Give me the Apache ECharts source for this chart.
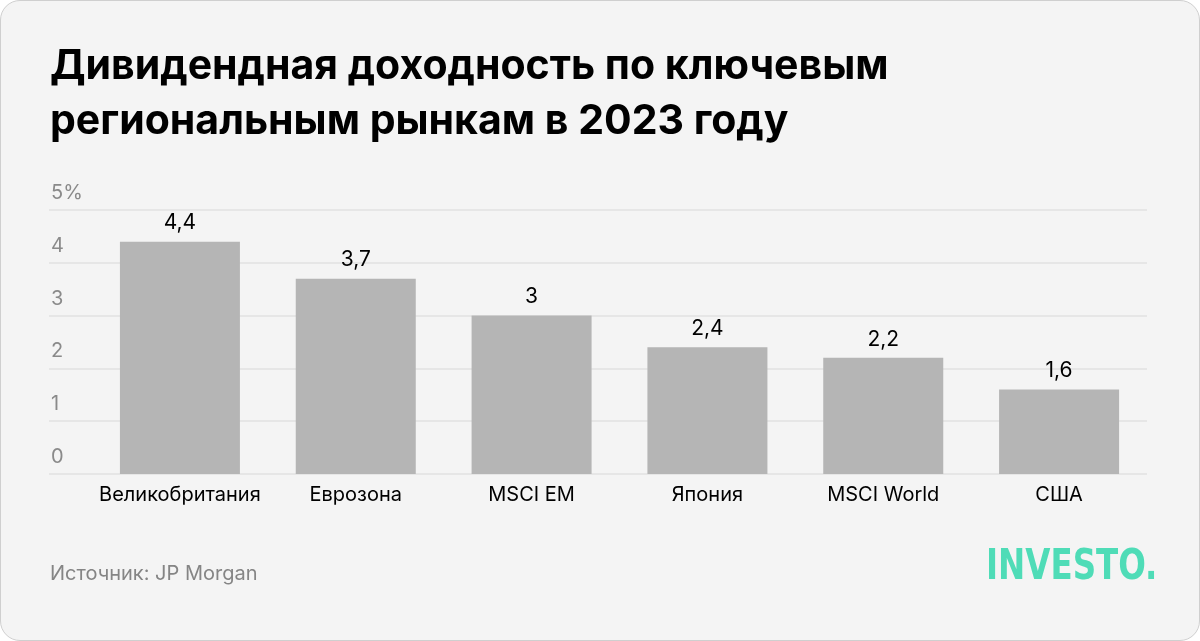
<!DOCTYPE html>
<html>
<head>
<meta charset="utf-8">
<script src="https://cdn.jsdelivr.net/npm/echarts@6/dist/echarts.min.js"></script>
<style>
html,body{margin:0;padding:0;background:#ffffff;}
#chart{width:1200px;height:641px;box-sizing:border-box;border:1px solid #cfcfcf;border-radius:20px;overflow:hidden;background:#f4f4f4;}
</style>
</head>
<body>
<div id="chart"></div>
<script>
const categories = ['Великобритания', 'Еврозона', 'MSCI EM', 'Япония', 'MSCI World', 'США'];
const values = [4.4, 3.7, 3, 2.4, 2.2, 1.6];
const yTicks = ['0', '1', '2', '3', '4', '5%'];
const titleText = 'Дивидендная доходность по ключевым\nрегиональным рынкам в 2023 году';
const sourceText = 'Источник: JP Morgan';
const brandText = 'INVESTO.';

const chart = echarts.init(document.getElementById('chart'), null, {renderer: 'canvas'});
const fmt = v => String(v).replace('.', ',');

chart.setOption({
  backgroundColor: 'transparent',
  animation: false,
  title: [
    {
      text: titleText,
      left: 49, top: 38, padding: 0,
      textStyle: {fontFamily: 'Inter, Liberation Sans, sans-serif', fontWeight: 'bold', fontSize: 41, lineHeight: 55, color: '#000'}
    },
    {
      text: sourceText,
      left: 49, top: 563, padding: 0,
      textStyle: {fontFamily: 'Inter, Roboto, sans-serif', fontWeight: 'normal', fontSize: 20, color: '#858585'}
    }
  ],
  graphic: [{
    type: 'text', left: 985, top: 546, scaleX: 0.86, scaleY: 1,
    style: {text: brandText, fill: '#4fdcb7', font: 'bold 42px "DejaVu Sans Condensed", "DejaVu Sans", sans-serif'}
  }],
  grid: [
    {left: 48, right: 52, top: 209, bottom: 166},
    {left: 91, right: 52, top: 209, bottom: 166}
  ],
  xAxis: [
    {gridIndex: 0, type: 'value', show: false, min: 0, max: 1},
    {
      gridIndex: 1, type: 'category', data: categories,
      axisLine: {show: false}, axisTick: {show: false},
      axisLabel: {interval: 0, color: '#000', fontFamily: 'Inter, Roboto, sans-serif', fontSize: 20, margin: 11}
    }
  ],
  yAxis: [
    {
      gridIndex: 0, type: 'value', min: 0, max: 5, interval: 1,
      axisLine: {show: false}, axisTick: {show: false},
      splitLine: {show: true, lineStyle: {color: '#e6e6e6', width: 2}},
      axisLabel: {
        inside: true, margin: 0, color: '#8a8a8a', fontFamily: 'Inter, Roboto, sans-serif', fontSize: 20,
        verticalAlign: 'bottom', align: 'left', padding: [0, 0, 7, 2],
        formatter: (v) => yTicks[Math.round(v)]
      }
    },
    {gridIndex: 1, type: 'value', min: 0, max: 5, interval: 1, show: false, splitLine: {show: false}}
  ],
  series: [{
    type: 'bar', xAxisIndex: 1, yAxisIndex: 1, data: values,
    barWidth: 120,
    itemStyle: {color: '#b5b5b5'},
    label: {
      show: true, position: 'top', distance: 8, color: '#000',
      fontFamily: 'Inter, Roboto, sans-serif', fontSize: 21,
      formatter: p => fmt(p.value)
    }
  }]
});
</script>
</body>
</html>
